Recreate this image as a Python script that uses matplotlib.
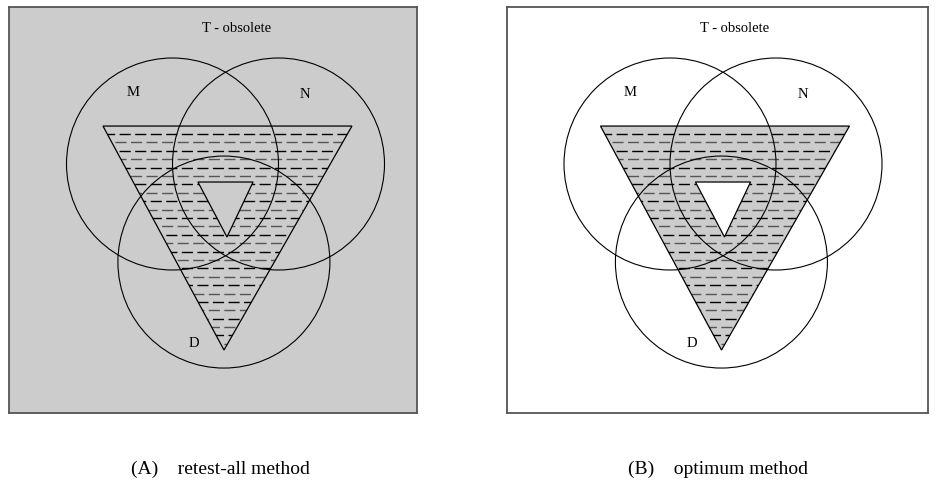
import numpy as np
import matplotlib.pyplot as plt
from matplotlib.patches import Circle, PathPatch, Polygon
from matplotlib.path import Path

plt.rcParams['font.family'] = ['Liberation Serif', 'DejaVu Serif']
plt.rcParams['lines.scale_dashes'] = False

# diagram geometry, in units of one circle radius (origin between M and N)
set_names = ['M', 'N', 'D']
circle_x = [-0.5, 0.5, -0.015]
circle_y = [0.0, 0.0, -0.925]
radius = 1.0
label_x = [-0.873, 0.75, -0.297]
label_y = [0.67, 0.66, -1.698]
outer_tri_x = [-1.156, 1.193, -0.014]
outer_tri_y = [0.358, 0.358, -1.755]
inner_tri_x = [-0.26, 0.26, 0.014]
inner_tri_y = [-0.17, -0.17, -0.689]
universe = 'T - obsolete'
universe_pos = (0.108, 1.283)
captions = ['(A)    retest-all method', '(B)    optimum method']

# panel frames in pixels: left, top, right, bottom, and where the diagram origin sits
W, H = 937, 487
panels = [
    dict(box=(9, 7.5, 417, 413), origin=(225.5, 164), bg='#cccccc', ring='none', hole='#cccccc'),
    dict(box=(507, 7.5, 928, 413), origin=(723, 164), bg='white', ring='#cccccc', hole='white'),
]
unit = 106.0  # px per radius
caption_x = [220, 718]
caption_y = 469

fig = plt.figure(figsize=(W / 100, H / 100), dpi=100)

for p, cap, cx in zip(panels, captions, caption_x):
    l, t, r, b = p['box']
    ax = fig.add_axes([l / W, 1 - b / H, (r - l) / W, (b - t) / H])
    ox, oy = p['origin']
    ax.set_xlim((l - ox) / unit, (r - ox) / unit)
    ax.set_ylim((oy - b) / unit, (oy - t) / unit)
    ax.set_facecolor(p['bg'])
    ax.set_xticks([])
    ax.set_yticks([])
    for s in ax.spines.values():
        s.set_color('#555555')
        s.set_linewidth(1.3)

    # triangle ring (outer minus inner)
    outer = list(zip(outer_tri_x, outer_tri_y))
    inner = list(zip(inner_tri_x, inner_tri_y))[::-1]
    verts = outer + [outer[0]] + inner + [inner[0]]
    codes = [Path.MOVETO, Path.LINETO, Path.LINETO, Path.CLOSEPOLY] * 2
    ring = Path(verts, codes)
    patch = PathPatch(ring, facecolor=p['ring'], edgecolor='none', zorder=1)
    ax.add_patch(patch)

    # dashed hatching inside the ring
    step = 0.0792
    yy = 0.283
    i = 0
    while yy > min(outer_tri_y):
        col = 'black' if i % 2 == 0 else '#555555'
        ln, = ax.plot([-1.3, 1.3], [yy, yy], color=col, lw=1.0, zorder=2,
                      linestyle=(3.0 * (i % 2), (8.0, 3.2)))
        ln.set_clip_path(patch)
        yy -= step
        i += 1

    ax.add_patch(Polygon(outer, closed=True, fill=False, edgecolor='black', lw=0.9, zorder=3))
    ax.add_patch(Polygon(inner, closed=True, facecolor=p['hole'], edgecolor='black', lw=0.9, zorder=3))

    for x, y in zip(circle_x, circle_y):
        ax.add_patch(Circle((x, y), radius, fill=False, edgecolor='black', lw=0.8, zorder=4))
    for name, x, y in zip(set_names, label_x, label_y):
        ax.text(x, y, name, ha='center', va='center', fontsize=10.5, zorder=5)
    ax.text(*universe_pos, universe, ha='center', va='center', fontsize=10.5)

    fig.text(cx / W, 1 - caption_y / H, cap, ha='center', va='center', fontsize=14)

fig.savefig('out.png', dpi=100)
